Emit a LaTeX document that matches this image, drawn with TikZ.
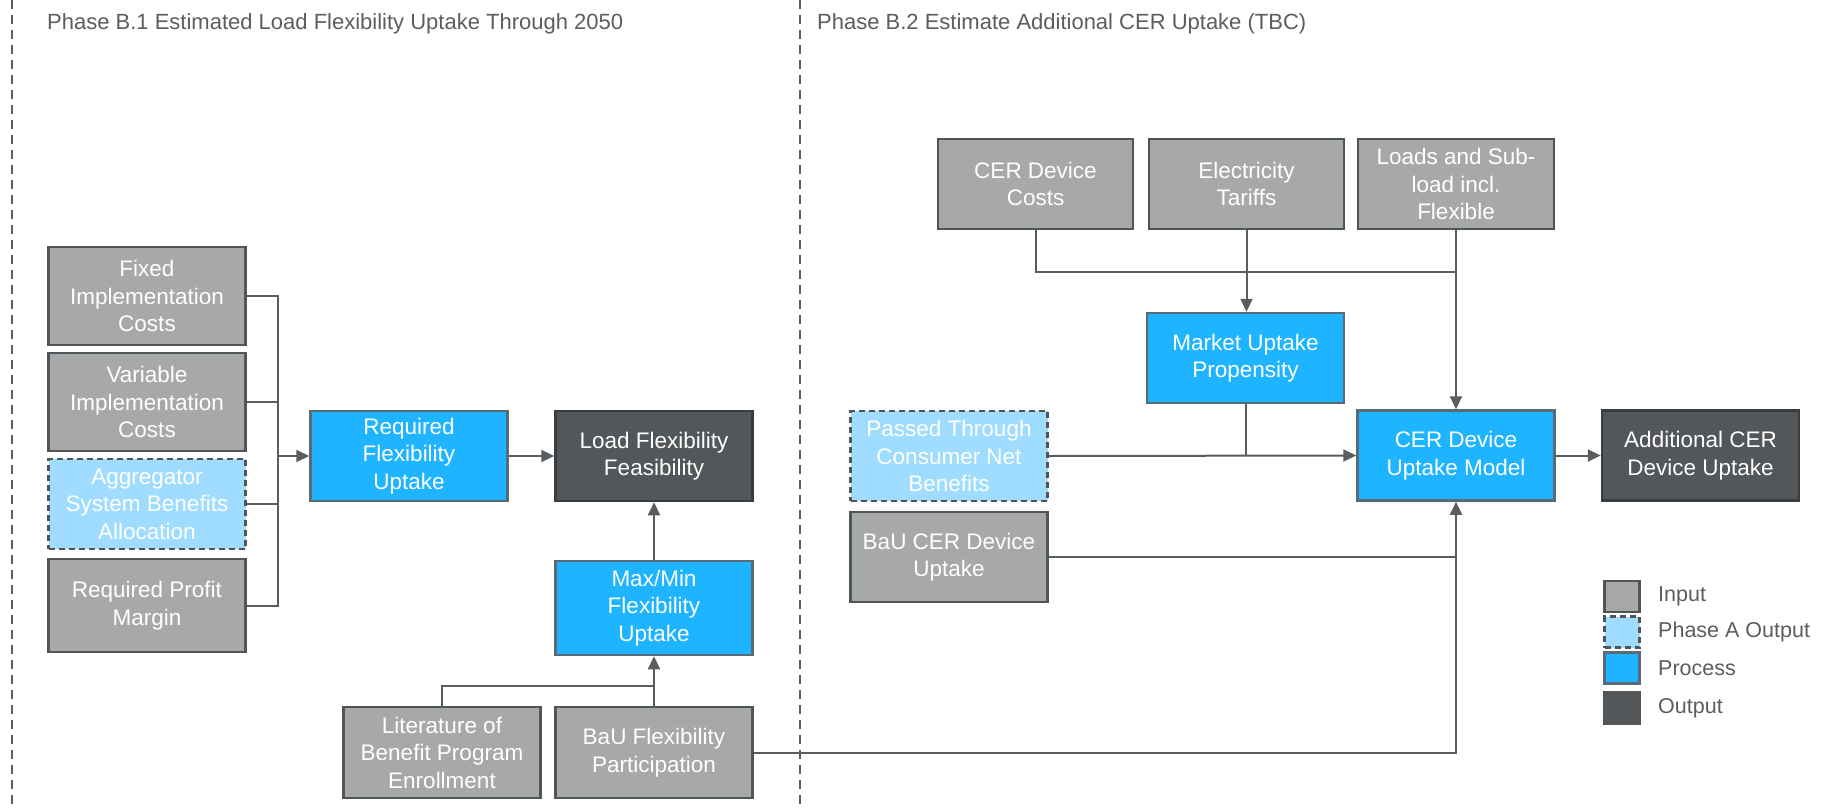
\documentclass[tikz,border=0pt]{standalone}
\usepackage{fontspec}
\setmainfont{Liberation Sans}
\usetikzlibrary{arrows.meta}
\definecolor{inputfill}{HTML}{A7A8AA}
\definecolor{inputdraw}{HTML}{505558}
\definecolor{phasefill}{HTML}{9FDCFF}
\definecolor{procfill}{HTML}{1EB4FF}
\definecolor{procdraw}{HTML}{5A6B75}
\definecolor{outfill}{HTML}{53575A}
\definecolor{outdraw}{HTML}{3A3D3F}
\definecolor{linecol}{HTML}{585D61}
\definecolor{textgray}{HTML}{5A5E62}
\begin{document}
\begin{tikzpicture}[x=1pt,y=-1pt,
  box/.style={minimum width=197pt,minimum height=90pt,inner sep=0pt,align=center,
    text=white,line width=2.5pt,font=\fontsize{22.5}{27.5}\selectfont},
  inbox/.style={box,fill=inputfill,draw=inputdraw},
  phbox/.style={box,fill=phasefill,draw=inputdraw,dash pattern=on 6pt off 4pt},
  prbox/.style={box,fill=procfill,draw=procdraw},
  oubox/.style={box,fill=outfill,draw=outdraw},
  conn/.style={draw=linecol,line width=2pt},
  arr/.style={conn,-{Triangle[length=13pt,width=12pt]}},
  divider/.style={draw=textgray,line width=1.6pt,dash pattern=on 9pt off 6pt},
  title/.style={anchor=west,text=textgray,inner sep=0pt,font=\fontsize{22}{26}\selectfont},
  legsq/.style={minimum width=35pt,minimum height=31pt,inner sep=0pt,line width=2.5pt},
  legtxt/.style={anchor=west,text=textgray,inner sep=0pt,font=\fontsize{21.5}{25}\selectfont}
]
\useasboundingbox (0,0) rectangle (1836,808);
\fill[white] (0,0) rectangle (1836,808);

% dividers
\coordinate (d1t) at (12,0); \coordinate (d1b) at (12,808);
\coordinate (d2t) at (800,0); \coordinate (d2b) at (800,808);
\draw[divider] (d1t) -- (d1b);
\draw[divider] (d2t) -- (d2b);

% titles
\node[title] (t1) at (47,24) {Phase B.1 Estimated Load Flexibility Uptake Through 2050};
\node[title] (t2) at (817,24) {Phase B.2 Estimate Additional CER Uptake (TBC)};

% left inputs
\node[inbox,minimum height=98pt] (fixed) at (147,296) {Fixed\\Implementation\\Costs};
\node[inbox,minimum height=98pt] (variable) at (147,402) {Variable\\Implementation\\Costs};
\node[phbox] (aggr) at (147,504) {Aggregator\\System Benefits\\Allocation};
\node[inbox,minimum height=93pt] (profit) at (147,605.5) {Required Profit\\Margin};

\node[prbox] (reqflex) at (409,456) {Required\\Flexibility\\Uptake};
\node[oubox] (loadfeas) at (654,456) {Load Flexibility\\Feasibility};
\node[prbox,minimum height=94pt] (maxmin) at (654,608) {Max/Min\\Flexibility\\Uptake};
\node[inbox,minimum height=91pt] (lit) at (442,752.5) {Literature of\\Benefit Program\\Enrollment};
\node[inbox,minimum height=91pt] (bauflex) at (654,752.5) {BaU Flexibility\\Participation};

% right
\node[inbox,minimum width=195pt] (cercost) at (1035.5,184) {CER Device\\Costs};
\node[inbox,minimum width=195pt] (elec) at (1246.5,184) {Electricity\\Tariffs};
\node[inbox,minimum width=196pt] (loads) at (1456,184) {Loads and Sub-\\load incl.\\Flexible};
\node[prbox] (market) at (1245.5,358) {Market Uptake\\Propensity};
\node[phbox] (passed) at (949,456) {Passed Through\\Consumer Net\\Benefits};
\node[inbox] (baucer) at (949,557) {BaU CER Device\\Uptake};
\node[prbox] (cermodel) at (1456,455.5) {CER Device\\Uptake Model};
\node[oubox] (addl) at (1700.5,455.5) {Additional CER\\Device Uptake};

% legend
\node[legsq,fill=inputfill,draw=inputdraw] (lin) at (1622,596.5) {};
\node[legsq,fill=phasefill,draw=inputdraw,dash pattern=on 6pt off 4pt] (lph) at (1622,632) {};
\node[legsq,fill=procfill,draw=procdraw] (lpr) at (1622,668) {};
\node[legsq,fill=outfill,draw=outfill] (lou) at (1622,708) {};
\node[legtxt] (tin) at (1658,596.5) {Input};
\node[legtxt] (tph) at (1658,632) {Phase A Output};
\node[legtxt] (tpr) at (1658,668) {Process};
\node[legtxt] (tou) at (1658,708) {Output};

% connectors left
\coordinate (bx) at (278,0);
\draw[conn] (fixed.east) -| (bx |- profit.east) -- (profit.east);
\draw[conn] (variable.east) -- (variable.east -| bx);
\draw[conn] (aggr.east) -- (aggr.east -| bx);
\draw[arr] (reqflex.west -| bx) -- (reqflex.west);
\draw[arr] (reqflex.east) -- (loadfeas.west);
\draw[arr] (maxmin.north) -- (loadfeas.south);
\coordinate (jl) at (654,686);
\draw[conn] (lit.north) |- (jl);
\draw[arr] (bauflex.north) -- (maxmin.south);
\draw[arr] (bauflex.east) -| (cermodel.south);
\draw[conn] (baucer.east) -- (baucer.east -| cermodel.south);

% connectors right
\coordinate (jt) at (1456,272);
\draw[conn] (cercost.south) |- (jt);
\draw[arr] (elec.south) -- (elec.south |- market.north);
\draw[arr] (loads.south) -- (cermodel.north);
\draw[conn] (market.south) -- (market.south |- passed.east);
\draw[arr] (passed.east) -- (cermodel.west);
\draw[arr] (cermodel.east) -- (addl.west);
\end{tikzpicture}
\end{document}
